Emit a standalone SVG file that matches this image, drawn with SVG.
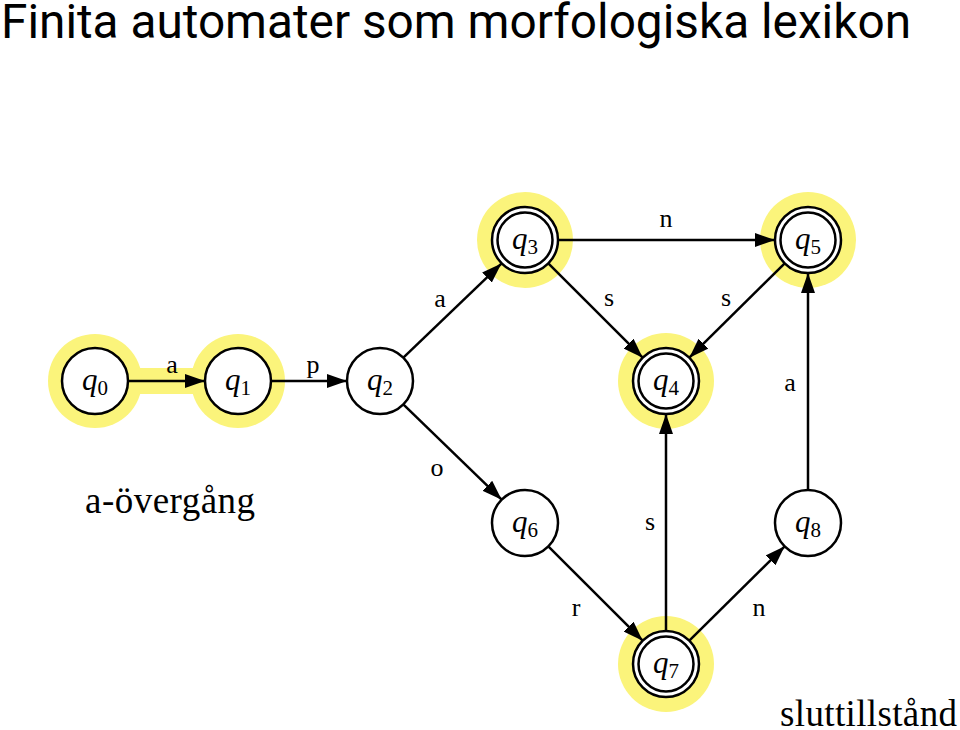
<svg xmlns="http://www.w3.org/2000/svg" width="960" height="730" viewBox="0 0 960 730">
<defs>
<marker id="arr" viewBox="0 0 20 14" refX="20" refY="7" markerWidth="20" markerHeight="14" markerUnits="userSpaceOnUse" orient="auto">
<path d="M0,0 L20,7 L0,14 Z" fill="#000"/>
</marker>
</defs>
<style>
.hl{fill:#fbf47b}
.n{fill:#fff;stroke:#000;stroke-width:2.5}
.in{fill:none;stroke:#000;stroke-width:2.5}
.e{stroke:#000;stroke-width:2.5;fill:none;marker-end:url(#arr)}
.q{font-family:"Liberation Serif","DejaVu Serif",serif;font-size:31px;text-anchor:middle}
.q tspan.s{font-style:normal;font-size:21px}
.lb{font-family:"Liberation Serif","DejaVu Serif",serif;font-size:26px;text-anchor:middle}
.big{font-family:"Liberation Serif","DejaVu Serif",serif;font-size:37px}
</style>
<rect width="960" height="730" fill="#fff"/>
<text x="1" y="38" font-family="Roboto,'Liberation Sans',sans-serif" font-size="48" textLength="910" lengthAdjust="spacingAndGlyphs">Finita automater som morfologiska lexikon</text>
<g id="highlights">
<line x1="95" y1="381" x2="238" y2="381" stroke="#fbf47b" stroke-width="26"/>
<circle class="hl" cx="95" cy="381" r="47"/>
<circle class="hl" cx="238" cy="381" r="47"/>
<circle class="hl" cx="525" cy="240" r="48"/>
<circle class="hl" cx="808" cy="240" r="48"/>
<circle class="hl" cx="666" cy="381" r="48"/>
<circle class="hl" cx="666" cy="664" r="48"/>
</g>
<g id="edges">
<line class="e" x1="128" y1="381" x2="205" y2="381"/>
<line class="e" x1="271" y1="381" x2="347" y2="381"/>
<line class="e" x1="403.6" y1="357.4" x2="501.4" y2="263.6"/>
<line class="e" x1="558" y1="240" x2="775" y2="240"/>
<line class="e" x1="548.3" y1="263.3" x2="642.7" y2="357.7"/>
<line class="e" x1="784.7" y1="263.3" x2="689.3" y2="357.7"/>
<line class="e" x1="808" y1="490" x2="808" y2="273"/>
<line class="e" x1="403.3" y1="404.3" x2="501.7" y2="499.7"/>
<line class="e" x1="548.3" y1="546.3" x2="642.7" y2="640.7"/>
<line class="e" x1="666" y1="631" x2="666" y2="414"/>
<line class="e" x1="689.3" y1="640.7" x2="784.7" y2="546.3"/>
<text class="lb" x="172" y="373">a</text>
<text class="lb" x="313" y="373">p</text>
<text class="lb" x="440" y="307">a</text>
<text class="lb" x="666" y="227">n</text>
<text class="lb" x="609" y="306">s</text>
<text class="lb" x="726" y="306">s</text>
<text class="lb" x="790" y="391">a</text>
<text class="lb" x="437" y="476">o</text>
<text class="lb" x="650" y="530">s</text>
<text class="lb" x="576" y="616">r</text>
<text class="lb" x="759" y="616">n</text>
</g>
<g id="q0"><circle class="n" cx="95" cy="381" r="33"/><text class="q" x="95" y="390"><tspan font-style="italic">q</tspan><tspan class="s" dy="5">0</tspan></text></g>
<g id="q1"><circle class="n" cx="238" cy="381" r="33"/><text class="q" x="238" y="390"><tspan font-style="italic">q</tspan><tspan class="s" dy="5">1</tspan></text></g>
<g id="q2"><circle class="n" cx="380" cy="381" r="33"/><text class="q" x="380" y="390"><tspan font-style="italic">q</tspan><tspan class="s" dy="5">2</tspan></text></g>
<g id="q3"><circle class="n" cx="525" cy="240" r="33"/><circle class="in" cx="525" cy="240" r="27.5"/><text class="q" x="525" y="249"><tspan font-style="italic">q</tspan><tspan class="s" dy="5">3</tspan></text></g>
<g id="q5"><circle class="n" cx="808" cy="240" r="33"/><circle class="in" cx="808" cy="240" r="27.5"/><text class="q" x="808" y="249"><tspan font-style="italic">q</tspan><tspan class="s" dy="5">5</tspan></text></g>
<g id="q4"><circle class="n" cx="666" cy="381" r="33"/><circle class="in" cx="666" cy="381" r="27.5"/><text class="q" x="666" y="390"><tspan font-style="italic">q</tspan><tspan class="s" dy="5">4</tspan></text></g>
<g id="q6"><circle class="n" cx="525" cy="523" r="33"/><text class="q" x="525" y="532"><tspan font-style="italic">q</tspan><tspan class="s" dy="5">6</tspan></text></g>
<g id="q7"><circle class="n" cx="666" cy="664" r="33"/><circle class="in" cx="666" cy="664" r="27.5"/><text class="q" x="666" y="673"><tspan font-style="italic">q</tspan><tspan class="s" dy="5">7</tspan></text></g>
<g id="q8"><circle class="n" cx="808" cy="523" r="33"/><text class="q" x="808" y="532"><tspan font-style="italic">q</tspan><tspan class="s" dy="5">8</tspan></text></g>
<text class="big" x="85" y="513" textLength="170">a-övergång</text>
<text class="big" x="780" y="726" textLength="177">sluttillstånd</text>
</svg>
